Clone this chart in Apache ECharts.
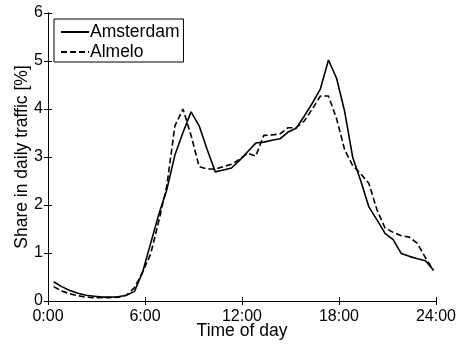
<!DOCTYPE html>
<html>
<head>
<meta charset="utf-8">
<script src="https://cdn.jsdelivr.net/npm/echarts@6/dist/echarts.min.js"></script>
<style>
  html, body { margin: 0; padding: 0; background: #fff; }
  #chart { width: 459px; height: 345px; }
</style>
</head>
<body>
<div id="chart"></div>
<script>
// Half-hour sample times (hours after midnight)
const hours = [
  0.35, 0.85, 1.35, 1.85, 2.35, 2.85, 3.35, 3.85, 4.35, 4.85, 5.35, 5.85,
  6.35, 6.85, 7.35, 7.85, 8.35, 8.85, 9.35, 9.85, 10.35, 10.85, 11.35, 11.85,
  12.35, 12.85, 13.35, 13.85, 14.35, 14.85, 15.35, 15.85, 16.35, 16.85, 17.35, 17.85,
  18.35, 18.85, 19.35, 19.85, 20.35, 20.85, 21.35, 21.85, 22.35, 22.85, 23.35, 23.85
];

// Share in daily traffic [%]
const amsterdam = [
  0.40, 0.30, 0.22, 0.16, 0.12, 0.10, 0.08, 0.08, 0.09, 0.12, 0.20, 0.60,
  1.20, 1.80, 2.32, 3.04, 3.51, 3.94, 3.65, 3.15, 2.69, 2.73, 2.77, 2.93,
  3.11, 3.29, 3.31, 3.35, 3.38, 3.52, 3.60, 3.85, 4.12, 4.42, 5.02, 4.64,
  3.95, 2.99, 2.50, 1.96, 1.69, 1.41, 1.28, 0.99, 0.93, 0.88, 0.84, 0.64
];

const almelo = [
  0.30, 0.21, 0.15, 0.11, 0.08, 0.07, 0.07, 0.07, 0.08, 0.12, 0.28, 0.60,
  0.98, 1.66, 2.40, 3.65, 4.00, 3.45, 2.80, 2.75, 2.75, 2.80, 2.85, 2.95,
  3.08, 3.02, 3.45, 3.46, 3.48, 3.61, 3.61, 3.75, 4.00, 4.27, 4.27, 3.80,
  3.15, 2.82, 2.65, 2.45, 1.90, 1.52, 1.43, 1.36, 1.33, 1.20, 0.90, 0.64
];

const xTickLabels = ['0:00', '6:00', '12:00', '18:00', '24:00'];
const yTicks = [0, 1, 2, 3, 4, 5, 6];

const font = 'Liberation Sans, Arial, Helvetica, sans-serif';

function pairs(xs, ys) {
  return xs.map((x, i) => [x, ys[i]]);
}

const chart = echarts.init(document.getElementById('chart'), null, { renderer: 'canvas' });

const boxAxisLine = { show: true, lineStyle: { color: '#000', width: 1 } };
const innerTick = { show: true, inside: true, length: 4, lineStyle: { color: '#000', width: 1 } };

chart.setOption({
  backgroundColor: '#fff',
  animation: false,
  grid: { left: 48, right: 23, top: 13, bottom: 42, containLabel: false },
  legend: {
    orient: 'vertical',
    left: 54,
    top: 19,
    padding: [4, 4, 1, 6],
    itemGap: 2,
    itemWidth: 28,
    itemHeight: 18,
    borderColor: '#000',
    borderWidth: 1,
    borderRadius: 0,
    backgroundColor: '#fff',
    // line sample only, no marker dot
    itemStyle: { opacity: 0 },
    textStyle: { fontFamily: font, fontSize: 17.5, color: '#000', padding: [0, 0, 0, -4] },
    data: ['Amsterdam', 'Almelo']
  },
  xAxis: [
    {
      type: 'value',
      min: 0, max: 24, interval: 6,
      position: 'bottom',
      name: 'Time of day',
      nameLocation: 'middle',
      nameGap: 21,
      nameMoveOverlap: false,
      nameTextStyle: { fontFamily: font, fontSize: 17.5, color: '#000', verticalAlign: 'top' },
      axisLine: boxAxisLine,
      axisTick: innerTick,
      splitLine: { show: false },
      axisLabel: {
        margin: 8,
        fontFamily: font, fontSize: 16, color: '#000',
        formatter: v => xTickLabels[Math.round(v / 6)]
      }
    },
    {
      type: 'value',
      min: 0, max: 24, interval: 6,
      position: 'top',
      axisLine: boxAxisLine,
      axisTick: innerTick,
      splitLine: { show: false },
      axisLabel: { show: false }
    }
  ],
  yAxis: [
    {
      type: 'value',
      min: 0, max: 6, interval: 1,
      position: 'left',
      name: 'Share in daily traffic [%]',
      nameLocation: 'middle',
      nameGap: 17,
      nameMoveOverlap: false,
      nameTextStyle: { fontFamily: font, fontSize: 17.5, color: '#000' },
      axisLine: boxAxisLine,
      axisTick: innerTick,
      splitLine: { show: false },
      axisLabel: {
        margin: 5,
        fontFamily: font, fontSize: 16, color: '#000',
        formatter: v => String(yTicks[Math.round(v)])
      }
    },
    {
      type: 'value',
      min: 0, max: 6, interval: 1,
      position: 'right',
      axisLine: boxAxisLine,
      axisTick: innerTick,
      splitLine: { show: false },
      axisLabel: { show: false }
    }
  ],
  series: [
    {
      name: 'Amsterdam',
      type: 'line',
      xAxisIndex: 0, yAxisIndex: 0,
      data: pairs(hours, amsterdam),
      showSymbol: false,
      symbol: 'none',
      lineStyle: { color: '#000', width: 1.6, type: 'solid' },
      itemStyle: { color: '#000' }
    },
    {
      name: 'Almelo',
      type: 'line',
      xAxisIndex: 0, yAxisIndex: 0,
      data: pairs(hours, almelo),
      showSymbol: false,
      symbol: 'none',
      lineStyle: { color: '#000', width: 1.6, type: [6, 3] },
      itemStyle: { color: '#000' }
    }
  ]
});
</script>
</body>
</html>
